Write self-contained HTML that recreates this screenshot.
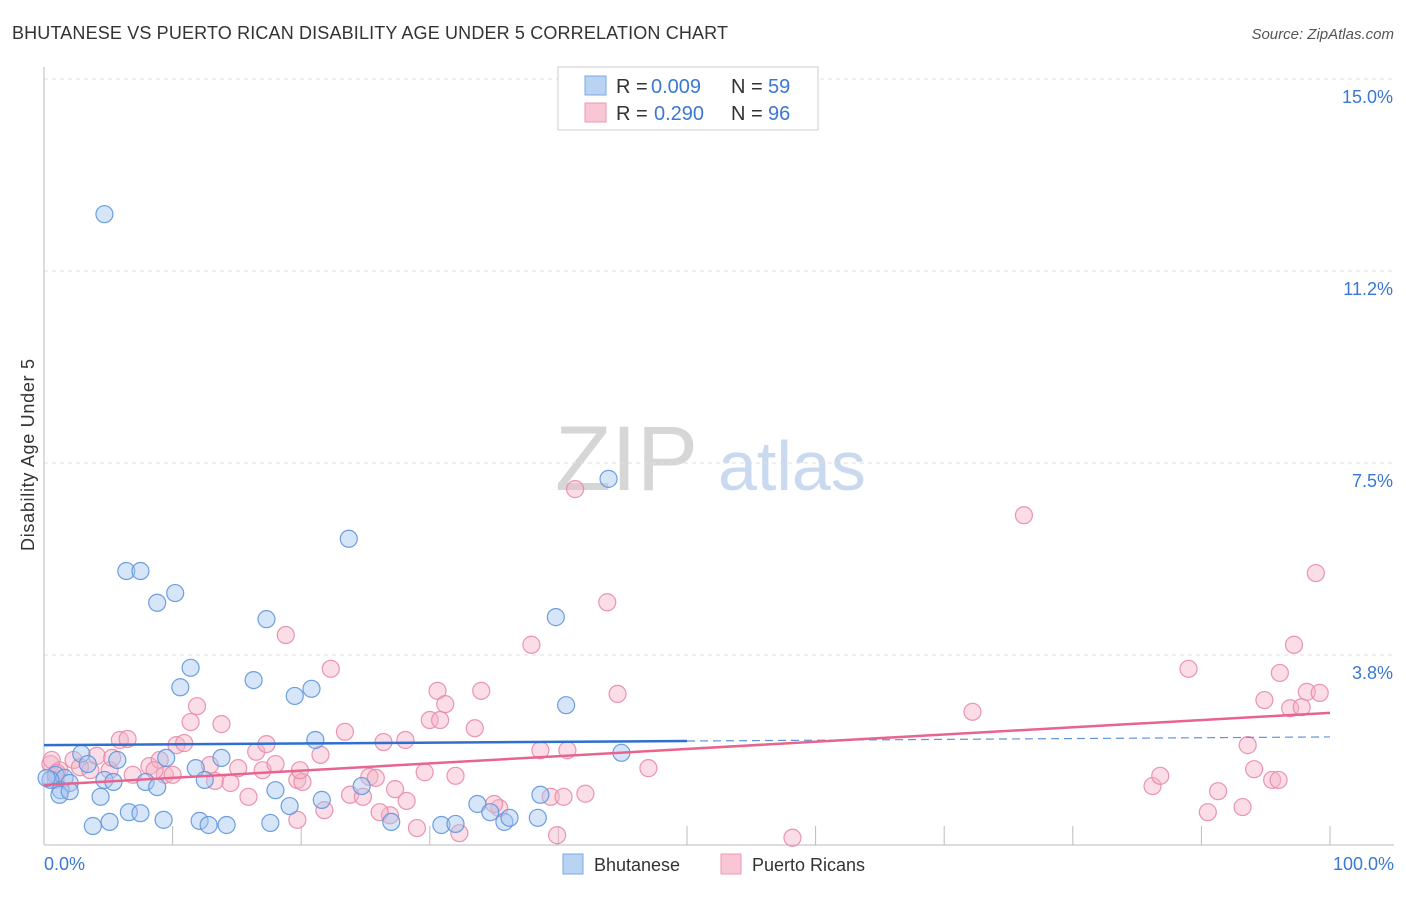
<!DOCTYPE html>
<html><head><meta charset="utf-8"><style>
body{margin:0;background:#fff;font-family:"Liberation Sans",sans-serif;}
svg text{font-family:"Liberation Sans",sans-serif;}
</style></head><body>
<svg id="chart" width="1406" height="892" viewBox="0 0 1406 892">
<text x="12" y="39" font-size="18" fill="#333" textLength="716">BHUTANESE VS PUERTO RICAN DISABILITY AGE UNDER 5 CORRELATION CHART</text>
<text x="1394" y="39" font-size="15" fill="#555" font-style="italic" text-anchor="end">Source: ZipAtlas.com</text>
<text transform="translate(34,455) rotate(-90)" font-size="18" fill="#333" text-anchor="middle" textLength="192">Disability Age Under 5</text>
<g><text x="555" y="490" font-size="92" fill="#d6d6d6" font-family="Liberation Serif,serif">ZIP</text><text x="718" y="490" font-size="70" fill="#c9daf0">atlas</text></g>
<g id="grid"></g>
<g id="axes"></g>
<g id="marks"></g>
<g>
<rect x="558" y="67" width="260" height="63" fill="#fff" stroke="#ccc"/>
<rect x="585" y="76" width="21" height="19" fill="#b9d3f3" stroke="#7aa8e4"/>
<rect x="585" y="103" width="21" height="19" fill="#f9c6d5" stroke="#ec98b2"/>
<text y="93" font-size="20" fill="#333"><tspan x="616">R =</tspan><tspan x="651" fill="#3a78d4">0.009</tspan><tspan x="731">N =</tspan><tspan x="768" fill="#3a78d4">59</tspan></text>
<text y="120" font-size="20" fill="#333"><tspan x="616">R =</tspan><tspan x="654" fill="#3a78d4">0.290</tspan><tspan x="731">N =</tspan><tspan x="768" fill="#3a78d4">96</tspan></text>
</g>
<g>
<rect x="563" y="854" width="20" height="20" fill="#b9d3f3" stroke="#7aa8e4"/>
<text x="594" y="871" font-size="18" fill="#333">Bhutanese</text>
<rect x="721" y="854" width="20" height="20" fill="#f9c6d5" stroke="#ec98b2"/>
<text x="752" y="871" font-size="18" fill="#333">Puerto Ricans</text>
</g>
</svg>
<script>
const yTicks=[3.8,7.5,11.2,15.0];
const yTickVals=[3.75,7.5,11.25,15.0];
const xTickLabels=["0.0%","100.0%"];
const blueX=[4.7,6.4,7.5,8.8,10.2,17.3,23.7,43.9,39.8,11.4,10.6,16.3,19.5,20.8,40.6,21.1,44.9,9.5,5.7,2.9,3.4,11.8,13.8,0.9,1.6,0.5,2.0,1.3,4.7,5.4,12.5,7.9,8.8,18.0,4.4,1.2,2.0,21.6,24.7,38.6,19.1,6.6,7.5,9.3,3.8,5.1,12.1,12.8,14.2,17.6,27.0,30.9,32.0,33.7,34.7,35.8,36.2,38.4,0.2];
const blueY=[12.36,5.39,5.39,4.77,4.96,4.45,6.02,7.19,4.49,3.50,3.12,3.26,2.95,3.09,2.77,2.09,1.84,1.74,1.70,1.82,1.62,1.54,1.74,1.41,1.35,1.31,1.25,1.11,1.31,1.27,1.31,1.27,1.17,1.11,0.98,1.02,1.09,0.92,1.19,1.02,0.80,0.68,0.66,0.53,0.41,0.49,0.51,0.43,0.43,0.47,0.49,0.43,0.45,0.84,0.68,0.49,0.57,0.57,1.35];
const pinkX=[0.5,1.2,0.9,2.3,2.8,3.6,4.1,5.1,5.9,6.5,6.9,8.2,9.0,9.4,10.0,10.3,10.9,11.4,11.9,13.8,12.9,13.3,14.5,15.9,16.5,17.3,17.0,18.0,18.8,19.7,20.1,19.7,21.5,21.8,22.3,23.4,23.8,24.8,25.3,25.8,26.4,27.3,28.1,28.2,29.0,26.9,29.6,30.0,30.6,31.2,32.0,33.5,34.0,35.4,35.0,37.9,38.6,39.4,39.9,40.4,40.7,41.3,42.1,43.8,44.6,47.0,58.2,72.2,76.2,86.2,86.8,89.0,90.5,91.3,93.2,93.6,94.1,94.9,95.5,96.1,96.0,96.9,97.8,98.2,98.9,97.2,99.2,32.3,26.1,5.3,30.8,8.6,15.1,0.6,19.9,1.0];
const pinkY=[1.62,1.50,1.31,1.70,1.56,1.50,1.78,1.50,2.09,2.11,1.41,1.58,1.70,1.41,1.41,1.99,2.03,2.44,2.75,2.40,1.60,1.29,1.25,0.98,1.86,2.01,1.50,1.62,4.14,1.31,1.27,0.53,1.80,0.72,3.48,2.25,1.02,0.98,1.37,1.35,2.05,1.13,2.09,0.90,0.37,0.62,1.46,2.48,3.05,2.79,1.39,2.32,3.05,0.76,0.84,3.95,1.89,0.98,0.23,0.98,1.89,6.99,1.04,4.78,2.99,1.54,0.18,2.64,6.48,1.19,1.39,3.48,0.68,1.09,0.78,1.99,1.52,2.87,1.31,3.40,1.31,2.71,2.73,3.03,5.35,3.95,3.01,0.27,0.68,1.74,2.48,1.50,1.54,1.70,1.50,1.45];
const blueTrend=[1.99,2.15];
const pinkTrend=[1.21,2.62];
const X0=44,X1=1330,Y0=847,PX=192/3.75;
const sx=v=>X0+(X1-X0)*v/100, sy=v=>Y0-v*PX;
const NS="http://www.w3.org/2000/svg";
function mk(tag,attrs,parent){const e=document.createElementNS(NS,tag);for(const k in attrs)e.setAttribute(k,attrs[k]);parent.appendChild(e);return e;}
const grid=document.getElementById('grid'),axes=document.getElementById('axes'),marks=document.getElementById('marks');
yTickVals.forEach((v,i)=>{
 const l=mk('line',{x1:X0,x2:1394,y1:sy(v),y2:sy(v),stroke:'#ddd','stroke-dasharray':'4,4'},grid);
 
 
 const t=mk('text',{x:1393,y:sy(v)+24,'font-size':18,fill:'#3a78d4','text-anchor':'end'},axes);
 t.textContent=yTicks[i].toFixed(1)+'%';
 
 
});
const ax=mk('line',{x1:X0,x2:X0,y1:67,y2:845,stroke:'#bbb'},axes);


const bx=mk('line',{x1:X0,x2:1394,y1:845,y2:845,stroke:'#bbb'},axes);


for(let i=1;i<=10;i++){const t=mk('line',{x1:sx(i*10),x2:sx(i*10),y1:826,y2:845,stroke:'#bbb'},axes);
 
 }
[[0,'start'],[100,'end']].forEach((p,i)=>{const t=mk('text',{x:i?1394:44,y:870,'font-size':18,fill:'#3a78d4','text-anchor':p[1]},axes);t.textContent=xTickLabels[i];
 
 });
function dots(xs,ys,fill,stroke,name){xs.forEach((x,i)=>{const c=mk('circle',{cx:sx(x),cy:sy(ys[i]),r:8.5,fill:fill,'fill-opacity':0.45,stroke:stroke,'stroke-width':1.2,'stroke-opacity':0.9},marks);
 
 });}
dots(pinkX,pinkY,'#f5b3c8','#e98aa8','puerto-rican-point');
dots(blueX,blueY,'#a7c6ef','#5e95dd','bhutanese-point');
const bt=v=>blueTrend[0]+(blueTrend[1]-blueTrend[0])*v/100, pt=v=>pinkTrend[0]+(pinkTrend[1]-pinkTrend[0])*v/100;
const b1=mk('line',{x1:sx(0),y1:sy(bt(0)),x2:sx(50),y2:sy(bt(50)),stroke:'#2f6fd0','stroke-width':2.5},marks);


const b2=mk('line',{x1:sx(50),y1:sy(bt(50)),x2:sx(100),y2:sy(bt(100)),stroke:'#5e95dd','stroke-width':1.2,'stroke-dasharray':'8,5'},marks);


const p1=mk('line',{x1:sx(0),y1:sy(pt(0)),x2:sx(100),y2:sy(pt(100)),stroke:'#e8648f','stroke-width':2.5},marks);


</script>
</body></html>
